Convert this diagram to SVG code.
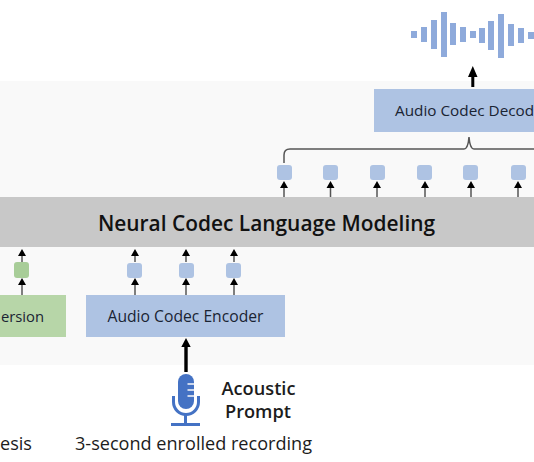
<svg xmlns="http://www.w3.org/2000/svg" width="534" height="462" viewBox="0 0 534 462">
<style>
text{font-family:"Open Sans","Noto Sans","Liberation Sans",sans-serif;fill:#1a2433}
.b{fill:#aec3e3}.s{fill:#aec3e3}.g{fill:#b7d6a8}.gs{fill:#a8cd98}
.t{stroke:#555;stroke-width:1.5;fill:none}
.h{fill:#000}
.w{fill:#8eaadb}
.l{fill:#1c1c1c}
</style>
<rect width="534" height="462" fill="#fff"/>
<rect id="panel" y="81" width="534" height="284" fill="#f9f9f9"/>
<g id="waveform" class="w">
<rect x="411" y="31" width="6" height="7"/><rect x="421" y="27" width="6" height="15"/><rect x="431" y="20" width="6" height="29"/><rect x="441" y="12" width="6" height="45"/><rect x="450" y="23" width="6" height="22"/><rect x="460" y="27" width="6" height="15"/><rect x="470" y="31" width="6" height="7"/><rect x="479" y="28" width="6" height="15"/><rect x="488" y="21" width="6" height="29"/><rect x="498" y="14" width="6" height="44"/><rect x="508" y="24" width="6" height="22"/><rect x="518" y="28" width="6" height="15"/><rect x="528" y="32" width="6" height="7"/>
</g>
<g id="decoder"><rect class="b" x="374" y="89" width="160" height="43"/><text x="395" y="116" font-size="15.300">Audio Codec Decod</text></g>
<g id="lm"><rect y="197" width="534" height="50" fill="#c8c8c8"/><text x="266.500" y="231" text-anchor="middle" font-size="20.900" font-weight="600" style="fill:#111">Neural Codec Language Modeling</text></g>
<g id="conversion"><rect class="g" x="-1" y="295" width="67" height="42"/><text x="44" y="322" text-anchor="end" font-size="14.800">ersion</text></g>
<g id="encoder"><rect class="b" x="86" y="295" width="199" height="42"/><text x="185.500" y="322" text-anchor="middle" font-size="15.700">Audio Codec Encoder</text></g>
<g id="tok-top">
<rect class="s" x="277" y="165" width="15" height="15" rx="3"/><rect class="s" x="323" y="165" width="15" height="15" rx="3"/><rect class="s" x="370" y="165" width="15" height="15" rx="3"/><rect class="s" x="417" y="165" width="15" height="15" rx="3"/><rect class="s" x="463" y="165" width="15" height="15" rx="3"/><rect class="s" x="511" y="165" width="15" height="15" rx="3"/>
</g>
<g id="tok-bottom">
<rect class="gs" x="14" y="262" width="15" height="16" rx="3"/><rect class="s" x="127" y="263" width="15" height="15" rx="3"/><rect class="s" x="179" y="263" width="15" height="15" rx="3"/><rect class="s" x="226" y="263" width="15" height="15" rx="3"/>
</g>
<g id="connectors">
<path class="t" d="M284 163V155Q284 149 290 149H464Q468 149 469 137Q470 149 474 149H534"/>
<path class="t" d="M284 197V188M330.500 197V188M377 197V188M425 197V188M471 197V188M518 197V188M22 262V256M135 262V256M186 262V256M234 262V256M22 295V285M135 295V285M186 295V285M234 295V285"/>
<g class="h">
<path d="M280 188L284 181L288 188ZM326.500 188L330.500 181L334.500 188ZM373 188L377 181L381 188ZM421 188L425 181L429 188ZM467 188L471 181L475 188ZM514 188L518 181L522 188Z"/>
<path d="M18 256L22 249L26 256ZM131 256L135 249L139 256ZM182 256L186 249L190 256ZM230 256L234 249L238 256Z"/>
<path d="M18 285L22 278L26 285ZM131 285L135 278L139 285ZM182 285L186 278L190 285ZM230 285L234 278L238 285Z"/>
<path d="M468 77H471.300V87H474.300V77H477.500L472.800 66Z"/>
<path d="M181.300 347L186 338L190.700 347H187.700V372H184.300V347Z"/>
</g>
</g>
<g id="mic">
<rect x="178" y="374" width="16" height="35" rx="8" fill="#4472c4"/>
<path d="M187.500 384h6.500M187.500 390h6.500M187.500 396h6.500" stroke="#f9f9f9" stroke-width="1.500"/>
<path d="M173.500 396V402A12.500 12.500 0 0 0 198.500 402V396" fill="none" stroke="#4472c4" stroke-width="3"/>
<path d="M185.500 414V424" stroke="#4472c4" stroke-width="3"/>
<path d="M171 424.500H200" stroke="#4472c4" stroke-width="3"/>
</g>
<g id="labels">
<text class="l" x="258.500" y="395" text-anchor="middle" font-size="18.200" font-weight="600">Acoustic</text>
<text class="l" x="258" y="418" text-anchor="middle" font-size="18.200" font-weight="600">Prompt</text>
<text class="l" x="193.500" y="450" text-anchor="middle" font-size="18.100">3-second enrolled recording</text>
<text class="l" x="32" y="450" text-anchor="end" font-size="18.100">esis</text>
</g>
</svg>
